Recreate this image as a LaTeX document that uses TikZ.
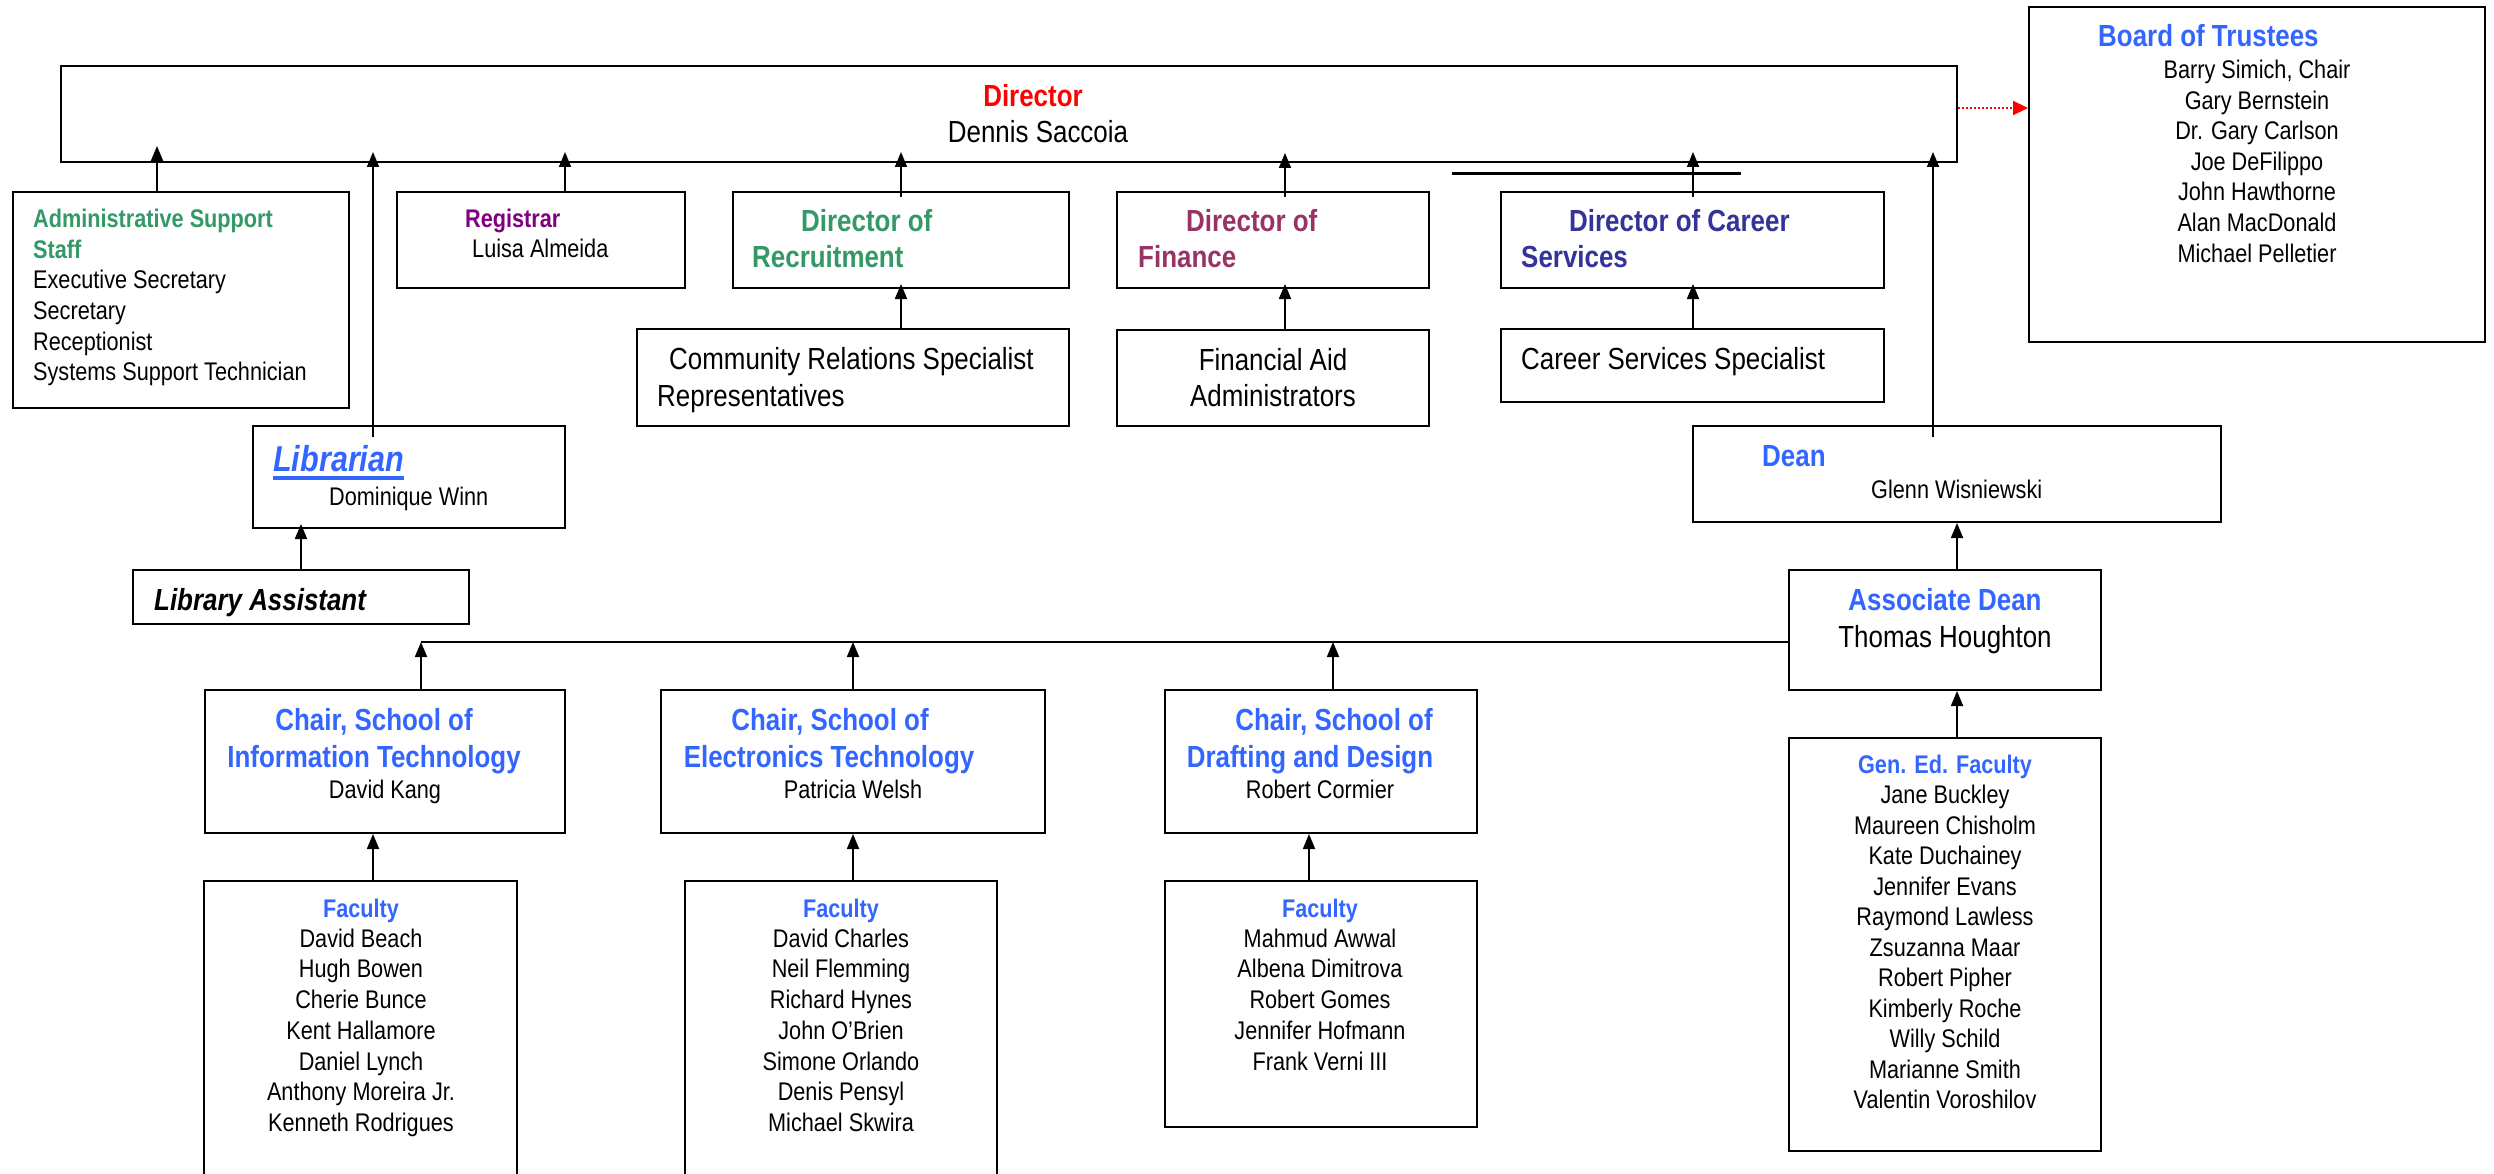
\documentclass[tikz,border=0pt]{standalone}
\usepackage{fontspec}
\setmainfont{Liberation Sans}[FakeStretch=0.85]
\usetikzlibrary{arrows.meta,fit}
\definecolor{cgreen}{HTML}{339966}
\definecolor{cpurple}{HTML}{800080}
\definecolor{cplum}{HTML}{993366}
\definecolor{cnavy}{HTML}{333399}
\definecolor{cblue}{HTML}{3366FF}
\begin{document}
\begin{tikzpicture}[x=1pt,y=-1pt,
  box/.style={draw, line width=2pt, inner sep=0pt, rectangle},
  conn/.style={line width=1.8pt, -{Triangle[length=15pt,width=12pt]}},
  plain/.style={line width=1.8pt},
  big/.style={inner sep=0pt, font=\fontsize{30.5}{36}\selectfont},
  small/.style={inner sep=0pt, font=\fontsize{25.5}{30.5}\selectfont},
]
\useasboundingbox[fill=white] (0,0) rectangle (2494,1174);
\clip (0,0) rectangle (2494,1174);

% ---------- boxes ----------
\node[box, fit={(61,66)(1957,162)}] (dir) {};
\node[box, fit={(2029,7)(2485,342)}] (board) {};
\node[box, fit={(13,192)(349,408)}] (admin) {};
\node[box, fit={(397,192)(685,288)}] (reg) {};
\node[box, fit={(733,192)(1069,288)}] (recr) {};
\node[box, fit={(1117,192)(1429,288)}] (fin) {};
\node[box, fit={(1501,192)(1884,288)}] (car) {};
\node[box, fit={(637,329)(1069,426)}] (comm) {};
\node[box, fit={(1117,330)(1429,426)}] (faid) {};
\node[box, fit={(1501,329)(1884,402)}] (cspec) {};
\node[box, fit={(253,426)(565,528)}] (lib) {};
\node[box, fit={(133,570)(469,624)}] (libas) {};
\node[box, fit={(1693,426)(2221,522)}] (dean) {};
\node[box, fit={(1789,570)(2101,690)}] (adean) {};
\node[box, fit={(1789,738)(2101,1151)}] (gened) {};
\node[box, fit={(205,690)(565,833)}] (chit) {};
\node[box, fit={(661,690)(1045,833)}] (chel) {};
\node[box, fit={(1165,690)(1477,833)}] (chdr) {};
\node[box, fit={(204,881)(517,1200)}] (fac1) {};
\node[box, fit={(685,881)(997,1200)}] (fac2) {};
\node[box, fit={(1165,881)(1477,1127)}] (fac3) {};

% ---------- helper coordinates ----------
\coordinate (x157) at (157,0);
\coordinate (x301) at (301,0);
\coordinate (x373) at (373,0);
\coordinate (x565) at (565,0);
\coordinate (x853) at (853,0);
\coordinate (x901) at (901,0);
\coordinate (x1285) at (1285,0);
\coordinate (x1309) at (1309,0);
\coordinate (x1693) at (1693,0);
\coordinate (x1933) at (1933,0);
\coordinate (x1957) at (1957,0);
\coordinate (r108) at (0,108);
\coordinate (bus1) at (421,642);
\coordinate (bus2) at (853,642);
\coordinate (bus3) at (1333,642);
\coordinate (cl1) at (1452,174);
\coordinate (cl2) at (1741,174);

% ---------- connectors ----------
\draw[conn, shorten >=-17pt] (admin.north -| x157) -- (dir.south -| x157);
\draw[conn, shorten >=-11pt] ([yshift=-12pt]lib.north -| x373) -- (dir.south -| x373);
\draw[conn, shorten >=-11pt] (reg.north -| x565) -- (dir.south -| x565);
\draw[conn, shorten >=-11pt] ([yshift=-6pt]recr.north -| x901) -- (dir.south -| x901);
\draw[conn, shorten >=-10pt] ([yshift=-6pt]fin.north -| x1285) -- (dir.south -| x1285);
\draw[conn, shorten >=-11pt] ([yshift=-6pt]car.north -| x1693) -- (dir.south -| x1693);
\draw[conn, shorten >=-11pt] ([yshift=-12pt]dean.north -| x1933) -- (dir.south -| x1933);
\draw[conn, shorten >=-5pt] (comm.north -| x901) -- (recr.south -| x901);
\draw[conn, shorten >=-5pt] (faid.north -| x1285) -- (fin.south -| x1285);
\draw[conn, shorten >=-5pt] (cspec.north -| x1693) -- (car.south -| x1693);
\draw[conn, shorten >=-5pt] (libas.north -| x301) -- (lib.south -| x301);
\draw[conn] (adean.north -| x1957) -- (dean.south -| x1957);
\draw[conn] (gened.north -| x1957) -- (adean.south -| x1957);
\draw[plain] ([yshift=-12pt]adean.west) -- (bus1);
\draw[conn] (chit.north -| bus1) -- (bus1);
\draw[conn] (chel.north -| bus2) -- (bus2);
\draw[conn] (chdr.north -| bus3) -- (bus3);
\draw[conn] (fac1.north -| x373) -- (chit.south -| x373);
\draw[conn] (fac2.north -| x853) -- (chel.south -| x853);
\draw[conn] (fac3.north -| x1309) -- (chdr.south -| x1309);
\draw[red, line width=2pt, dash pattern=on 2pt off 2pt, -{Triangle[length=15pt,width=14pt]}]
  (dir.east |- r108) -- (board.west |- r108);
\draw[line width=3pt] (cl1) -- (cl2);

% ---------- texts ----------
\node[big, anchor=base, text=red, font=\fontsize{30.5}{36}\selectfont\bfseries] (tdir1) at (1033,107) {Director};
\node[big, anchor=base] (tdir2) at (1038,143) {Dennis Saccoia};

\node[small, anchor=base west, text=cgreen, font=\fontsize{25.5}{30.5}\selectfont\bfseries] (ta1) at (33,228) {Administrative Support};
\node[small, anchor=base west, text=cgreen, font=\fontsize{25.5}{30.5}\selectfont\bfseries] (ta2) at (33,258.5) {Staff};
\node[small, anchor=base west] (ta3) at (33,289) {Executive Secretary};
\node[small, anchor=base west] (ta4) at (33,319.5) {Secretary};
\node[small, anchor=base west] (ta5) at (33,350) {Receptionist};
\node[small, anchor=base west] (ta6) at (33,380.5) {Systems Support Technician};

\node[small, anchor=base west, text=cpurple, font=\fontsize{25.5}{30.5}\selectfont\bfseries] (tr1) at (465,228) {Registrar};
\node[small, anchor=base west] (tr2) at (472,258) {Luisa Almeida};

\node[big, anchor=base west, text=cgreen, font=\fontsize{30.5}{36}\selectfont\bfseries] (tc1) at (801,232) {Director of};
\node[big, anchor=base west, text=cgreen, font=\fontsize{30.5}{36}\selectfont\bfseries] (tc2) at (752,268) {Recruitment};
\node[big, anchor=base west, text=cplum, font=\fontsize{30.5}{36}\selectfont\bfseries] (tf1) at (1186,232) {Director of};
\node[big, anchor=base west, text=cplum, font=\fontsize{30.5}{36}\selectfont\bfseries] (tf2) at (1138,268) {Finance};
\node[big, anchor=base west, text=cnavy, font=\fontsize{30.5}{36}\selectfont\bfseries] (tk1) at (1569,232) {Director of Career};
\node[big, anchor=base west, text=cnavy, font=\fontsize{30.5}{36}\selectfont\bfseries] (tk2) at (1521,268) {Services};

\node[big, anchor=base west] (tm1) at (669,369) {Community Relations Specialist};
\node[big, anchor=base west] (tm2) at (657,406) {Representatives};
\node[big, anchor=base] (tn1) at (1273,370) {Financial Aid};
\node[big, anchor=base] (tn2) at (1273,406) {Administrators};
\node[big, anchor=base west] (ts1) at (1521,369) {Career Services Specialist};

\node[big, anchor=base west, text=cblue, font=\fontsize{30.5}{36}\selectfont\bfseries] (tb0) at (2098,47) {Board of Trustees};
\foreach \t [count=\i] in {{Barry Simich, Chair}, Gary Bernstein, Dr. Gary Carlson, Joe DeFilippo, John Hawthorne, Alan MacDonald, Michael Pelletier}
  \node[small, anchor=base] (tb\i) at (2257,{79+30.5*(\i-1)}) {\t};

\node[anchor=base west, inner sep=0pt, text=cblue, font=\fontsize{36}{42}\selectfont\bfseries\itshape] (tl1) at (273,471) {Librarian};
\draw[cblue, line width=4pt] ([yshift=-7pt]tl1.base west) -- ([yshift=-7pt]tl1.base east);
\node[small, anchor=base west] (tl2) at (329,505) {Dominique Winn};
\node[big, anchor=base west, font=\fontsize{30.5}{36}\selectfont\bfseries\itshape] (tla) at (154,610) {Library Assistant};

\node[big, anchor=base west, text=cblue, font=\fontsize{30.5}{36}\selectfont\bfseries] (td1) at (1762,466) {Dean};
\node[small, anchor=base west] (td2) at (1871,498) {Glenn Wisniewski};
\node[big, anchor=base, text=cblue, font=\fontsize{30.5}{36}\selectfont\bfseries] (tad1) at (1945,610) {Associate Dean};
\node[big, anchor=base] (tad2) at (1945,647) {Thomas Houghton};

\node[small, anchor=base, text=cblue, font=\fontsize{25.5}{30.5}\selectfont\bfseries] (tg0) at (1945,773) {Gen. Ed. Faculty};
\foreach \t [count=\i] in {Jane Buckley, Maureen Chisholm, Kate Duchainey, Jennifer Evans, Raymond Lawless, Zsuzanna Maar, Robert Pipher, Kimberly Roche, Willy Schild, Marianne Smith, Valentin Voroshilov}
  \node[small, anchor=base] (tg\i) at (1945,{773+30.5*\i}) {\t};

\node[big, anchor=base, text=cblue, font=\fontsize{30.5}{36}\selectfont\bfseries] (ti1) at (374,730) {Chair, School of};
\node[big, anchor=base, text=cblue, font=\fontsize{30.5}{36}\selectfont\bfseries] (ti2) at (374,767) {Information Technology};
\node[small, anchor=base] (ti3) at (385,798) {David Kang};
\node[big, anchor=base, text=cblue, font=\fontsize{30.5}{36}\selectfont\bfseries] (te1) at (830,730) {Chair, School of};
\node[big, anchor=base, text=cblue, font=\fontsize{30.5}{36}\selectfont\bfseries] (te2) at (829,767) {Electronics Technology};
\node[small, anchor=base] (te3) at (853,798) {Patricia Welsh};
\node[big, anchor=base, text=cblue, font=\fontsize{30.5}{36}\selectfont\bfseries] (tq1) at (1334,730) {Chair, School of};
\node[big, anchor=base, text=cblue, font=\fontsize{30.5}{36}\selectfont\bfseries] (tq2) at (1310,767) {Drafting and Design};
\node[small, anchor=base] (tq3) at (1320,798) {Robert Cormier};

\node[small, anchor=base, text=cblue, font=\fontsize{25.5}{30.5}\selectfont\bfseries] (tf10) at (361,917) {Faculty};
\foreach \t [count=\i] in {David Beach, Hugh Bowen, Cherie Bunce, Kent Hallamore, Daniel Lynch, Anthony Moreira Jr., Kenneth Rodrigues}
  \node[small, anchor=base] (tf1\i) at (361,{916.5+30.7*\i}) {\t};
\node[small, anchor=base, text=cblue, font=\fontsize{25.5}{30.5}\selectfont\bfseries] (tf20) at (841,917) {Faculty};
\foreach \t [count=\i] in {David Charles, Neil Flemming, Richard Hynes, John O’Brien, Simone Orlando, Denis Pensyl, Michael Skwira}
  \node[small, anchor=base] (tf2\i) at (841,{916.5+30.7*\i}) {\t};
\node[small, anchor=base, text=cblue, font=\fontsize{25.5}{30.5}\selectfont\bfseries] (tf30) at (1320,917) {Faculty};
\foreach \t [count=\i] in {Mahmud Awwal, Albena Dimitrova, Robert Gomes, Jennifer Hofmann, Frank Verni III}
  \node[small, anchor=base] (tf3\i) at (1320,{916.5+30.7*\i}) {\t};
\end{tikzpicture}
\end{document}
